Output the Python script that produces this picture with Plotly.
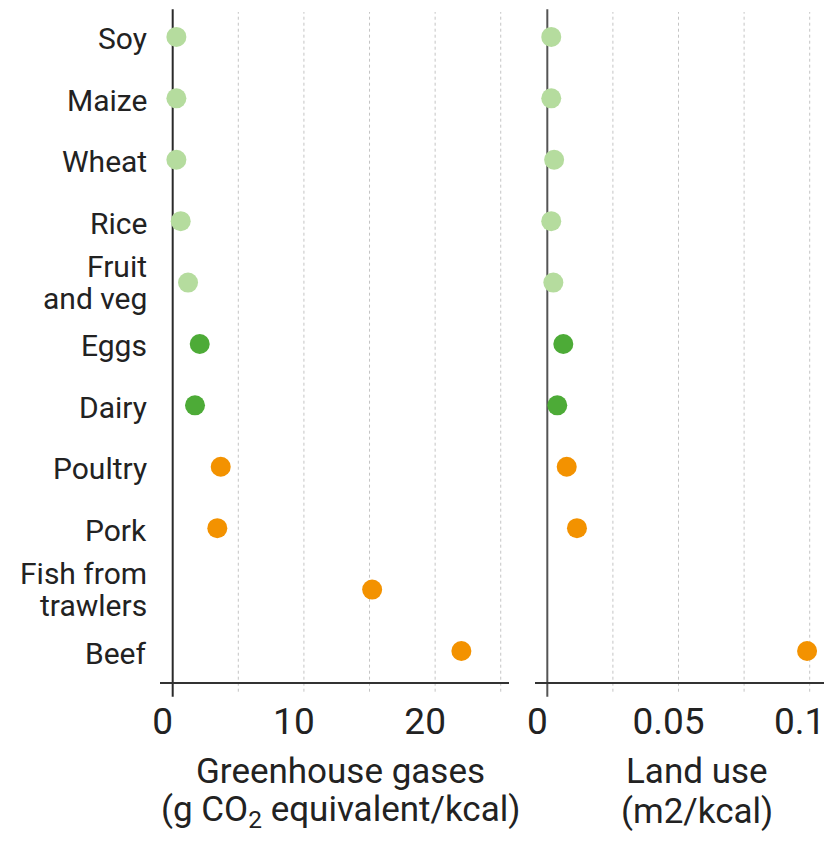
import plotly.graph_objects as go

# ---- data ----
foods = ["Soy", "Maize", "Wheat", "Rice", "Fruit<br>and veg", "Eggs", "Dairy",
         "Poultry", "Pork", "Fish from<br>trawlers", "Beef"]
ghg = [0.28, 0.28, 0.28, 0.61, 1.17, 2.06, 1.7, 3.66, 3.4, 15.2, 22.0]
land = [0.0015, 0.0015, 0.0026, 0.0015, 0.0023, 0.0061, 0.0038, 0.0074, 0.0113, None, 0.099]
groups = ["crop"] * 5 + ["eggs_dairy"] * 2 + ["meat_fish"] * 4
palette = {"crop": "#b5dc9e", "eggs_dairy": "#4dab37", "meat_fish": "#f39200"}

ghg_ticks = [0, 10, 20]
ghg_ticktext = ["0", "10", "20"]
ghg_grid = [5, 10, 15, 20, 25]
land_ticks = [0, 0.05, 0.1]
land_ticktext = ["0", "0.05", "0.1"]
land_grid = [0.025, 0.05, 0.075, 0.1]

title_ghg = ["Greenhouse gases", "(g CO<sub>2</sub> equivalent/kcal)"]
title_land = ["Land use", "(m2/kcal)"]

W, H = 837, 843
OX, OY = 8, 8          # page body margin of the written html
FONT = "Roboto"
TXT = "#222222"
LABEL_SIZE = 30
LABEL_GAP = 31.6
TITLE_SIZE = 35


def px_x(p):
    return (p - OX) / W


def px_y(p):
    return 1 - (p - OY) / H


colors = [palette[g] for g in groups]

fig = go.Figure()
fig.add_trace(go.Scatter(x=ghg, y=foods, mode="markers", xaxis="x", yaxis="y",
                         marker=dict(size=20, color=colors, line=dict(width=0)),
                         showlegend=False, hoverinfo="x+y"))
fig.add_trace(go.Scatter(x=land, y=foods, mode="markers", xaxis="x2", yaxis="y2",
                         marker=dict(size=20, color=colors, line=dict(width=0)),
                         showlegend=False, hoverinfo="x+y"))

ydom = [px_y(681.7), px_y(9.3)]
yrange = [10.5, -0.45]

shapes = []
grid_y0 = px_y(691.7)
grid_y1 = px_y(12)
for g in ghg_grid:
    shapes.append(dict(type="line", xref="x", yref="paper", x0=g, x1=g, y0=grid_y0, y1=grid_y1,
                       line=dict(color="#c4c4c4", width=1, dash="dot"), layer="below"))
for g in land_grid:
    shapes.append(dict(type="line", xref="x2", yref="paper", x0=g, x1=g, y0=grid_y0, y1=grid_y1,
                       line=dict(color="#c4c4c4", width=1, dash="dot"), layer="below"))
zero_y0 = px_y(696.7)
zero_y1 = px_y(9.3)
shapes.append(dict(type="line", xref="x", yref="paper", x0=0, x1=0, y0=zero_y0, y1=zero_y1,
                   line=dict(color="#2a2a2a", width=2), layer="below"))
shapes.append(dict(type="line", xref="x2", yref="paper", x0=0, x1=0, y0=zero_y0, y1=zero_y1,
                   line=dict(color="#555555", width=2), layer="below"))

annotations = []
# category labels (one annotation per text line, to get a tight line gap)
for food in foods:
    lines = food.split("<br>")
    n = len(lines)
    for i, ln in enumerate(lines):
        shift = ((n - 1) / 2 - i) * LABEL_GAP - (2 if n == 1 else 0)
        annotations.append(dict(text=ln, xref="paper", yref="y", x=px_x(149), y=food,
                                xanchor="right", yanchor="middle", yshift=shift,
                                showarrow=False,
                                font=dict(size=LABEL_SIZE, color=TXT, family=FONT)))
# axis titles
for lines, xc in ((title_ghg, 340), (title_land, 697)):
    for ln, yc in zip(lines, (771, 811.5)):
        annotations.append(dict(text=ln, xref="paper", yref="paper", x=px_x(xc), y=px_y(yc),
                                xanchor="center", yanchor="middle", showarrow=False,
                                font=dict(size=TITLE_SIZE, color=TXT, family=FONT)))

xcommon = dict(showgrid=False, zeroline=False, showline=True, linecolor="#333333",
               linewidth=1.5, ticks="", tickfont=dict(size=37, color=TXT, family=FONT),
               ticklabelstandoff=6, ticklabelshift=-10, fixedrange=True, automargin=False)

fig.update_layout(
    width=W, height=H,
    margin=dict(l=0, r=0, t=0, b=0, autoexpand=False),
    plot_bgcolor="white", paper_bgcolor="white",
    font=dict(family=FONT, color=TXT),
    showlegend=False,
    xaxis=dict(domain=[px_x(160), px_x(509)], range=[-0.968, 25.63],
               tickvals=ghg_ticks, ticktext=ghg_ticktext, anchor="y", **xcommon),
    xaxis2=dict(domain=[px_x(535), px_x(824)], range=[-0.00469, 0.10545],
                tickvals=land_ticks, ticktext=land_ticktext, anchor="y2", **xcommon),
    yaxis=dict(domain=ydom, range=yrange, showgrid=False, zeroline=False, showline=False,
               showticklabels=False, ticks="", anchor="x", fixedrange=True, automargin=False),
    yaxis2=dict(domain=ydom, range=yrange, showgrid=False, zeroline=False, showline=False,
                showticklabels=False, ticks="", anchor="x2", fixedrange=True, automargin=False),
    shapes=shapes,
    annotations=annotations,
)

fig.write_html("out.html")
